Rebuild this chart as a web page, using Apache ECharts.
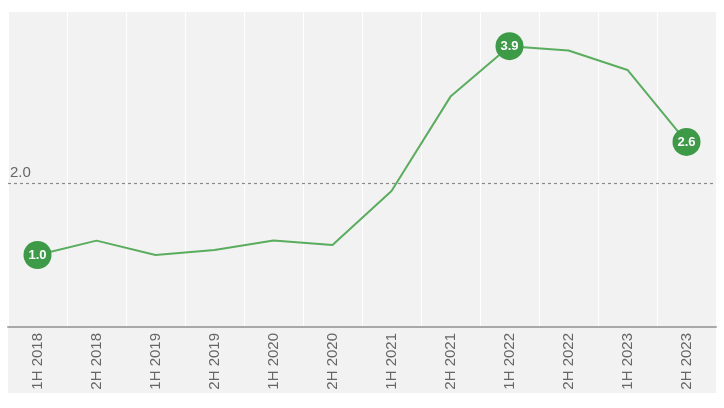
<!DOCTYPE html>
<html><head><meta charset="utf-8">
<script src="https://cdn.jsdelivr.net/npm/echarts@6/dist/echarts.min.js"></script>
<style>html,body{margin:0;padding:0;background:#fff}#c{width:724px;height:408px}</style>
</head><body><div id="c"></div>
<script>
const categories = ['1H 2018','2H 2018','1H 2019','2H 2019','1H 2020','2H 2020','1H 2021','2H 2021','1H 2022','2H 2022','1H 2023','2H 2023'];
const values = [1.0, 1.2, 1.0, 1.07, 1.2, 1.14, 1.89, 3.2, 3.9, 3.84, 3.57, 2.57];
const labelled = [0, 8, 11];
const refValue = 2.0;

const seriesData = values.map((v, i) => labelled.includes(i)
  ? {value: v, symbol: 'circle', symbolSize: 28,
     label: {show: true, formatter: p => p.value.toFixed(1)}}
  : {value: v, symbol: 'none'});

const chart = echarts.init(document.getElementById('c'), null, {renderer: 'canvas'});
chart.setOption({
  animation: false,
  backgroundColor: '#ffffff',
  graphic: [{type: 'rect', z: -10, silent: true,
    shape: {x: 8, y: 12, width: 708, height: 381},
    style: {fill: '#f2f2f2'}}],
  grid: {left: 8, right: 8, top: 12, bottom: 81, containLabel: false},
  xAxis: {
    type: 'category', data: categories, boundaryGap: true,
    axisLine: {show: true, lineStyle: {color: '#a8a8a8', width: 2}},
    axisTick: {show: false},
    axisLabel: {rotate: 90, color: '#666', fontSize: 15, fontFamily: 'Liberation Sans, Arial, sans-serif', margin: 6},
    splitLine: {show: true, lineStyle: {color: '#ffffff', width: 1}}
  },
  yAxis: {
    type: 'value', min: 0, max: 4.375,
    axisLine: {show: false}, axisTick: {show: false}, axisLabel: {show: false},
    splitLine: {show: false}
  },
  series: [{
    type: 'line', data: seriesData,
    lineStyle: {color: '#5aad5e', width: 2},
    itemStyle: {color: '#3d9b48'},
    label: {position: 'inside', color: '#fff', fontWeight: 'bold', fontSize: 13, fontFamily: 'Liberation Sans, Arial, sans-serif'},
    z: 5,
    markLine: {
      silent: true, symbol: 'none',
      lineStyle: {color: '#8a8a8a', type: [3, 3], width: 1.2},
      label: {position: 'insideStartTop', formatter: '2.0', color: '#666', fontSize: 15, fontFamily: 'Liberation Sans, Arial, sans-serif', distance: [2, 3]},
      data: [{yAxis: refValue}]
    }
  }]
});
</script></body></html>
